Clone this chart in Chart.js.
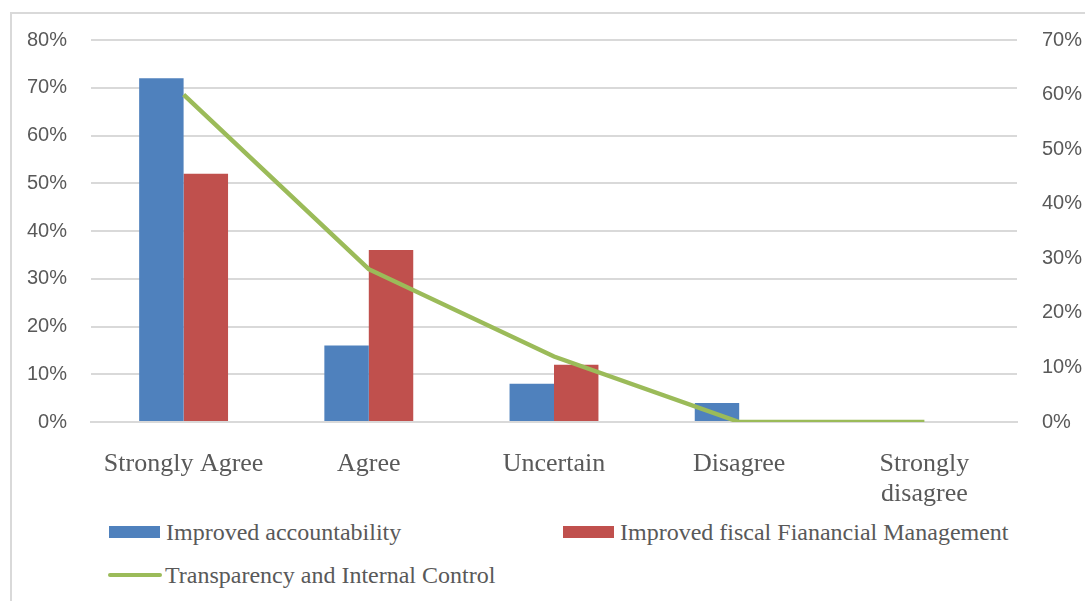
<!DOCTYPE html>
<html>
<head>
<meta charset="utf-8">
<script src="https://cdn.jsdelivr.net/npm/chart.js@4/dist/chart.umd.min.js"></script>
<style>
  html, body { margin: 0; padding: 0; background: #fff; width: 1085px; height: 601px; overflow: hidden; position: relative; }
  #frame { position: absolute; left: 10px; top: 12px; width: 1100px; height: 620px; border: 2px solid #d9d9d9; box-sizing: border-box; }
  #c { position: absolute; left: 0; top: 0; }
  .leg { position: absolute; font-family: "Liberation Serif", "Times New Roman", serif; font-size: 24px; color: #595959; white-space: nowrap; line-height: 24px; }
  .sw { position: absolute; }
</style>
</head>
<body>
<div id="frame"></div>
<canvas id="c" width="1085" height="515" style="width:1085px;height:515px"></canvas>
<div id="legend"></div>
<script>
const categories = ['Strongly Agree', 'Agree', 'Uncertain', 'Disagree', ['Strongly', 'disagree']];
const accountability = [72, 16, 8, 4, 0];
const fiscalManagement = [52, 36, 12, 0, 0];
const transparency = [60, 28, 12, 0, 0];
const leftTicksMax = 80;
const rightTicksMax = 70;
const seriesNames = ['Improved accountability', 'Improved fiscal Fianancial Management', 'Transparency and Internal Control'];
const seriesColors = ['#4F81BD', '#C0504D', '#9BBB59'];

const tickFont = { family: '"Liberation Sans", Arial, sans-serif', size: 20 };
const catFont = { family: '"Liberation Serif", "Times New Roman", serif', size: 26, lineHeight: 1.15 };
const textColor = '#595959';

new Chart(document.getElementById('c'), {
  data: {
    labels: categories,
    datasets: [
      { type: 'line', label: seriesNames[2], data: transparency, yAxisID: 'y1', borderColor: seriesColors[2], backgroundColor: seriesColors[2], borderWidth: 4.5, pointRadius: 0, tension: 0, order: 0, borderCapStyle: 'butt' },
      { type: 'bar', label: seriesNames[0], data: accountability, yAxisID: 'y', backgroundColor: seriesColors[0], categoryPercentage: 0.48, barPercentage: 1, order: 1 },
      { type: 'bar', label: seriesNames[1], data: fiscalManagement, yAxisID: 'y', backgroundColor: seriesColors[1], categoryPercentage: 0.48, barPercentage: 1, order: 1 }
    ]
  },
  options: {
    responsive: false,
    animation: false,
    devicePixelRatio: 1,
    layout: { padding: { top: 40, left: 0, right: 0, bottom: 0 } },
    plugins: { legend: { display: false }, tooltip: { enabled: false } },
    scales: {
      x: {
        grid: { display: false, drawTicks: false },
        border: { display: true, color: '#d9d9d9', width: 2 },
        ticks: { font: catFont, color: textColor, padding: 27, maxRotation: 0, autoSkip: false },
        afterFit: s => { s.height = 93; }
      },
      y: {
        position: 'left',
        min: 0, max: leftTicksMax,
        grid: { color: '#d9d9d9', lineWidth: 2, drawTicks: false },
        border: { display: false },
        ticks: { stepSize: 10, font: tickFont, color: textColor, padding: 24, callback: v => v + '%' },
        afterFit: s => { s.width = 91; }
      },
      y1: {
        position: 'right',
        min: 0, max: rightTicksMax,
        grid: { display: false, drawTicks: false },
        border: { display: false },
        ticks: { stepSize: 10, font: tickFont, color: textColor, padding: 25, callback: v => v + '%' },
        afterFit: s => { s.width = 68; }
      }
    }
  }
});

// HTML legend built from the series arrays
const legendItems = [
  { name: seriesNames[0], color: seriesColors[0], kind: 'box', x: 109, y: 532 },
  { name: seriesNames[1], color: seriesColors[1], kind: 'box', x: 563, y: 532 },
  { name: seriesNames[2], color: seriesColors[2], kind: 'line', x: 108, y: 575 }
];
const legend = document.getElementById('legend');
legendItems.forEach(it => {
  const sw = document.createElement('div');
  sw.className = 'sw';
  if (it.kind === 'box') {
    sw.style.cssText = `left:${it.x}px;top:${it.y - 6}px;width:51px;height:12px;background:${it.color}`;
  } else {
    sw.style.cssText = `left:${it.x}px;top:${it.y - 2}px;width:54px;height:4px;background:${it.color};border-radius:2px`;
  }
  legend.appendChild(sw);
  const t = document.createElement('div');
  t.className = 'leg';
  t.textContent = it.name;
  t.style.left = (it.x + 57) + 'px';
  t.style.top = (it.y - 12) + 'px';
  legend.appendChild(t);
});
</script>
</body>
</html>
